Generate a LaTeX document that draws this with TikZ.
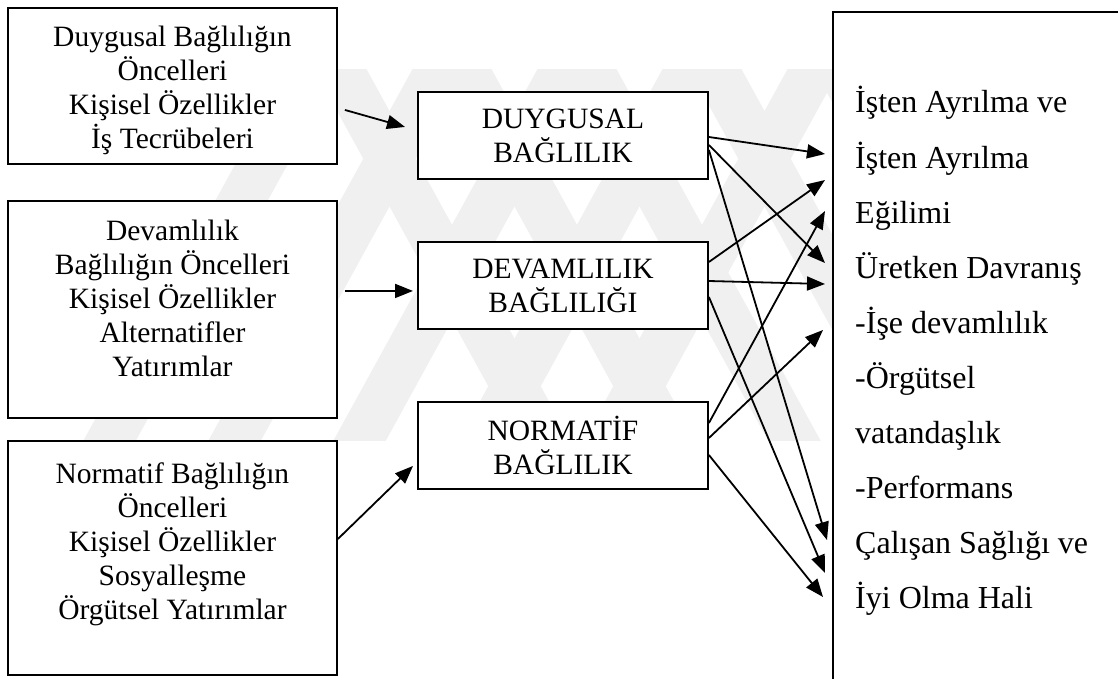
\documentclass[tikz,border=0pt]{standalone}
\usepackage{fontspec}
\setmainfont{Liberation Serif}
\usetikzlibrary{arrows.meta,calc}
\begin{document}
\begin{tikzpicture}[x=1pt,y=-1pt,
  box/.style={draw,fill=white,line width=1.9pt,inner sep=0pt,anchor=north west},
  txt/.style={align=center,inner sep=0pt,font=\fontsize{29.5}{34}\selectfont},
  midbox/.style={box,txt,minimum width=290pt,minimum height=87pt},
  arr/.style={line width=1.8pt,-{Triangle[length=18pt,width=14pt]}},
  rtxt/.style={anchor=base west,inner sep=0pt,font=\fontsize{32}{38}\selectfont},
  wmark/.style={draw=black!6,line width=46pt,line join=miter}]
\useasboundingbox (0,0) rectangle (1118,679);
% faint watermark behind the diagram
\begin{scope}
\clip (0,70) rectangle (1118,440);
\foreach \xa in {327,452,577,702,827}{
  \draw[wmark] (\xa-250,500) -- (\xa,45) -- (\xa+250,500);
}
\end{scope}
% left boxes
\node[box,minimum width=329pt,minimum height=156pt] (a) at (7,7) {};
\node[txt,anchor=north] (atx) at ($(a.north)+(0,19)$) {Duygusal Bağlılığın\\Öncelleri\\Kişisel Özellikler\\İş Tecrübeleri};
\node[box,minimum width=329pt,minimum height=217pt] (b) at (7,200) {};
\node[txt,anchor=north] (btx) at ($(b.north)+(0,20)$) {Devamlılık\\Bağlılığın Öncelleri\\Kişisel Özellikler\\Alternatifler\\Yatırımlar};
\node[box,minimum width=329pt,minimum height=234pt] (c) at (7,440) {};
\node[txt,anchor=north] (ctx) at ($(c.north)+(0,23)$) {Normatif Bağlılığın\\Öncelleri\\Kişisel Özellikler\\Sosyalleşme\\Örgütsel Yatırımlar};
% middle boxes
\node[midbox] (d) at (417,91) {DUYGUSAL\\BAĞLILIK};
\node[midbox] (v) at (417,241) {DEVAMLILIK\\BAĞLILIĞI};
\node[midbox] (n) at (417,401) {NORMATİF\\BAĞLILIK};
% right box
\node[anchor=north west,fill=white,minimum width=400pt,minimum height=700pt,inner sep=0pt] (r) at (833,12) {};
\draw[line width=1.9pt] (r.south west) -- (r.north west) -- (r.north east);
\node[rtxt] (r0) at (855,113) {İşten Ayrılma ve};
\node[rtxt] (r1) at (855,168) {İşten Ayrılma};
\node[rtxt] (r2) at (855,223) {Eğilimi};
\node[rtxt] (r3) at (855,278) {Üretken Davranış};
\node[rtxt] (r4) at (855,333) {-İşe devamlılık};
\node[rtxt] (r5) at (855,388) {-Örgütsel};
\node[rtxt] (r6) at (855,443) {vatandaşlık};
\node[rtxt] (r7) at (855,498) {-Performans};
\node[rtxt] (r8) at (855,553) {Çalışan Sağlığı ve};
\node[rtxt] (r9) at (855,608) {İyi Olma Hali};
% left arrows
\draw[arr] ($(a.east)+(7,24)$) -- ($(d.west)+(-12,-8.5)$);
\draw[arr] ($(b.east)+(7,-18.5)$) -- ($(v.west)+(-4,5.5)$);
\draw[arr] ($(c.east)+(0,-19)$) -- ($(n.west)+(-4,20.5)$);
% tips
\coordinate (t1) at ($(r.north west)+(-8,142)$);
\coordinate (t2) at ($(r.north west)+(-8,168)$);
\coordinate (t3) at ($(r.north west)+(-8,199)$);
\coordinate (t4) at ($(r.north west)+(-8,251)$);
\coordinate (t5) at ($(r.north west)+(-8,272)$);
\coordinate (t6) at ($(r.north west)+(-10,318)$);
\coordinate (t7) at ($(r.north west)+(-6,528)$);
\coordinate (t8) at ($(r.north west)+(-8,561)$);
\coordinate (t9) at ($(r.north west)+(-10,585)$);
% right arrows
\draw[arr] ($(d.north east)+(0,46)$) -- (t1);
\draw[arr] ($(d.north east)+(0,54)$) -- (t4);
\draw[arr] ($(d.north east)+(0,59)$) -- (t7);
\draw[arr] ($(v.north east)+(0,21)$) -- (t2);
\draw[arr] ($(v.north east)+(0,40)$) -- (t5);
\draw[arr] ($(v.north east)+(0,56)$) -- (t8);
\draw[arr] ($(n.north east)+(0,22)$) -- (t3);
\draw[arr] ($(n.north east)+(0,37)$) -- (t6);
\draw[arr] ($(n.north east)+(0,54)$) -- (t9);
\end{tikzpicture}
\end{document}
